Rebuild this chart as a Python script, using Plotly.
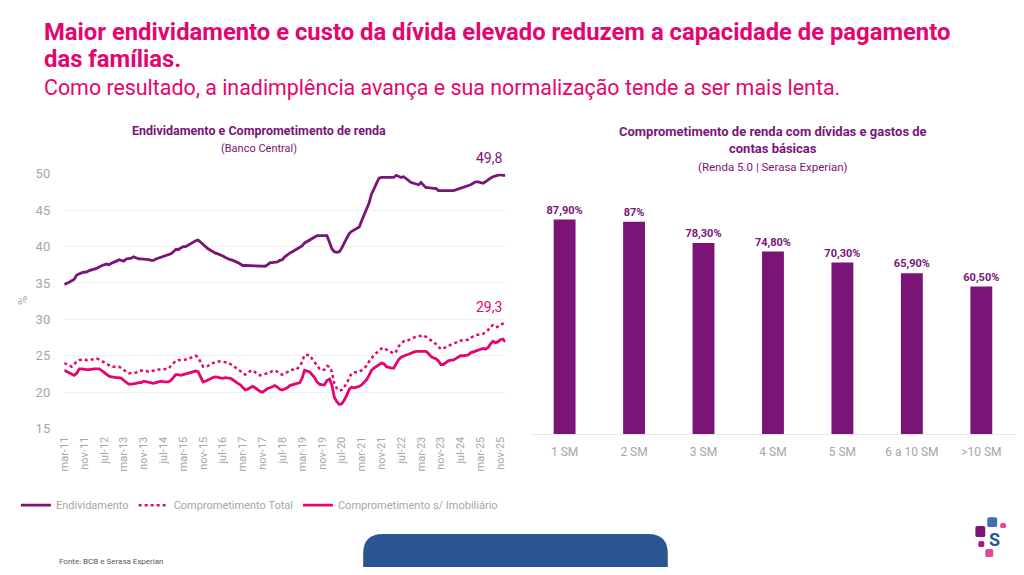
import plotly.graph_objects as go
import pandas as pd

# monthly series, mar-11 .. jan-26
endividamento = [
    34.8, 34.9, 35.1, 35.3, 35.5, 36.1, 36.3, 36.4, 36.5, 36.5,
    36.7, 36.8, 36.9, 37.0, 37.2, 37.4, 37.5, 37.6, 37.5, 37.7, 37.8, 38.0,
    38.2, 38.1, 38.0, 38.3, 38.3, 38.4, 38.6, 38.4, 38.3, 38.3, 38.3, 38.3,
    38.2, 38.1, 38.1, 38.3, 38.4, 38.5, 38.6, 38.7, 38.8, 39.0, 39.3, 39.6,
    39.6, 39.8, 40.0, 40.0, 40.2, 40.4, 40.6, 40.8, 40.9, 40.6, 40.2, 40.0,
    39.7, 39.5, 39.3, 39.1, 39.0, 38.9, 38.7, 38.5, 38.3, 38.2, 38.1, 38.0,
    37.8, 37.6, 37.4, 37.4, 37.4, 37.4, 37.3, 37.3, 37.4, 37.3, 37.3, 37.3,
    37.5, 37.8, 37.8, 37.8, 37.9, 38.1, 38.2, 38.6, 38.9, 39.1, 39.3, 39.5,
    39.6, 39.8, 40.1, 40.5, 40.7, 41.0, 41.2, 41.3, 41.5, 41.5, 41.5, 41.5,
    41.5, 40.6, 39.7, 39.3, 39.2, 39.3, 39.8, 40.5, 41.2, 41.8, 42.1, 42.3,
    42.4, 42.7, 43.5, 44.3, 45.0, 46.0, 47.2, 48.0, 48.8, 49.4, 49.5, 49.5,
    49.5, 49.5, 49.6, 49.5, 49.8, 49.6, 49.5, 49.6, 49.3, 49.0, 48.8, 48.7,
    48.6, 48.5, 48.8, 48.4, 48.1, 48.1, 48.0, 48.0, 48.0, 47.7, 47.7, 47.7,
    47.7, 47.6, 47.6, 47.7, 47.8, 47.9, 48.0, 48.1, 48.2, 48.4, 48.5, 48.7,
    48.9, 48.9, 48.8, 48.7, 48.9, 49.2, 49.4, 49.6, 49.7, 49.7, 49.9, 49.8,
    49.8,
]
comp_total = [
    24.0, 23.8, 23.6, 23.5, 23.8, 24.2, 24.4, 24.5, 24.5, 24.4,
    24.5, 24.5, 24.5, 24.6, 24.5, 24.3, 24.1, 23.8, 23.6, 23.5, 23.5, 23.5,
    23.5, 23.3, 23.0, 22.8, 22.6, 22.6, 22.6, 22.7, 22.9, 23.0, 23.0, 22.9,
    22.8, 22.9, 22.9, 23.0, 23.1, 23.1, 23.1, 23.2, 23.2, 23.6, 24.0, 24.3,
    24.4, 24.4, 24.4, 24.4, 24.5, 24.7, 24.8, 25.0, 24.8, 24.2, 23.5, 23.5,
    23.6, 23.9, 24.0, 24.1, 24.2, 24.2, 24.1, 24.1, 24.1, 23.9, 23.6, 23.4,
    23.1, 22.9, 22.6, 22.4, 22.6, 22.9, 23.0, 22.7, 22.5, 22.3, 22.4, 22.5,
    22.6, 22.7, 22.9, 23.0, 22.8, 22.5, 22.4, 22.6, 22.8, 23.0, 23.1, 23.0,
    23.2, 23.5, 24.2, 25.1, 25.1, 25.1, 24.6, 24.1, 23.6, 23.2, 23.0, 23.1,
    23.6, 23.5, 22.8, 21.2, 20.5, 20.2, 20.3, 20.8, 21.2, 22.0, 22.6, 22.7,
    22.7, 22.8, 23.0, 23.3, 23.6, 24.2, 24.7, 25.1, 25.4, 25.7, 26.0, 26.1,
    25.8, 25.6, 25.5, 25.3, 25.6, 26.3, 26.7, 27.0, 27.0, 27.2, 27.3, 27.5,
    27.6, 27.7, 27.8, 27.8, 27.6, 27.4, 27.1, 26.9, 26.6, 26.3, 25.9, 26.0,
    26.2, 26.4, 26.5, 26.7, 26.8, 27.0, 27.1, 27.1, 27.1, 27.2, 27.5, 27.7,
    27.8, 27.9, 27.9, 28.0, 28.2, 28.5, 29.0, 29.2, 28.9, 29.0, 29.3, 29.4,
    29.3,
]
comp_sem_imob = [
    23.0, 22.8, 22.6, 22.4, 22.3, 22.6, 23.2, 23.2, 23.1, 23.1,
    23.1, 23.2, 23.2, 23.2, 23.2, 23.0, 22.7, 22.5, 22.2, 22.1, 22.0, 22.0,
    22.0, 21.9, 21.6, 21.3, 21.1, 21.1, 21.1, 21.2, 21.3, 21.3, 21.5, 21.4,
    21.3, 21.2, 21.2, 21.3, 21.4, 21.5, 21.4, 21.4, 21.4, 21.6, 22.0, 22.4,
    22.4, 22.3, 22.4, 22.5, 22.6, 22.6, 22.7, 22.9, 22.8, 22.2, 21.4, 21.5,
    21.7, 21.8, 22.0, 22.1, 22.0, 21.9, 21.9, 22.0, 22.0, 21.9, 21.7, 21.4,
    21.2, 21.0, 20.7, 20.3, 20.4, 20.6, 20.8, 20.6, 20.3, 20.1, 20.0, 20.3,
    20.5, 20.6, 20.8, 20.9, 20.7, 20.4, 20.3, 20.4, 20.6, 20.9, 21.0, 21.0,
    21.1, 21.3, 21.9, 23.0, 22.9, 22.8, 22.4, 22.0, 21.4, 21.1, 21.0, 21.0,
    21.6, 21.8, 21.0, 19.3, 18.7, 18.3, 18.4, 18.9, 19.6, 20.4, 20.7, 20.6,
    20.7, 20.8, 21.0, 21.3, 21.7, 22.3, 23.0, 23.3, 23.5, 23.7, 24.0, 23.9,
    23.5, 23.4, 23.3, 23.3, 23.9, 24.5, 24.8, 25.0, 25.1, 25.2, 25.4, 25.5,
    25.6, 25.6, 25.6, 25.6, 25.6, 25.3, 24.9, 24.7, 24.6, 24.3, 23.8, 23.8,
    24.1, 24.3, 24.4, 24.4, 24.6, 24.8, 25.0, 25.0, 25.0, 25.1, 25.4, 25.5,
    25.7, 25.8, 25.8, 26.0, 25.9, 26.1, 26.6, 27.0, 26.8, 26.9, 27.2, 27.3,
    26.9,
]
tick_labels = ["mar-11", "nov-11", "jul-12", "mar-13", "nov-13", "jul-14", "mar-15", "nov-15",
               "jul-16", "mar-17", "nov-17", "jul-18", "mar-19", "nov-19", "jul-20", "mar-21",
               "nov-21", "jul-22", "mar-23", "nov-23", "jul-24", "mar-25", "nov-25"]

faixas = ["1 SM", "2 SM", "3 SM", "4 SM", "5 SM", "6 a 10 SM", ">10 SM"]
comprometimento = [87.9, 87.0, 78.3, 74.8, 70.3, 65.9, 60.5]
comprometimento_txt = ["87,90%", "87%", "78,30%", "74,80%", "70,30%", "65,90%", "60,50%"]

PINK = "#E5056F"
PURPLE = "#7A1577"
GRAY = "#A6A6A6"
FONT = "Roboto"
W, H = 1024, 575

dates = pd.date_range("2011-03-01", periods=len(endividamento), freq="MS")
tick_vals = dates[::8][:len(tick_labels)]


def px(x):
    return x / W


def py(y):
    # the photographed page comes out a little squeezed vertically; undo that
    return 1 - ((y - 6.3) / 0.975) / H


fig = go.Figure()

fig.add_trace(go.Scatter(x=dates, y=endividamento, mode="lines", name="Endividamento",
                         line=dict(color=PURPLE, width=2.8)))
fig.add_trace(go.Scatter(x=dates, y=comp_total, mode="lines", name="Comprometimento Total",
                         line=dict(color=PINK, width=2.5, dash="dot")))
fig.add_trace(go.Scatter(x=dates, y=comp_sem_imob, mode="lines", name="Comprometimento s/ Imobiliário",
                         line=dict(color=PINK, width=2.8)))

fig.add_trace(go.Bar(x=faixas, y=comprometimento, text=comprometimento_txt,
                     textposition="outside", cliponaxis=False, constraintext="none",
                     textfont=dict(family=FONT, size=11, color=PURPLE, weight="bold"),
                     marker=dict(color=PURPLE, line=dict(width=0)),
                     xaxis="x2", yaxis="y2", showlegend=False, hoverinfo="skip"))

fig.update_layout(
    width=W, height=H,
    margin=dict(l=0, r=0, t=0, b=0),
    paper_bgcolor="white", plot_bgcolor="white",
    font=dict(family=FONT, color=GRAY),
    xaxis=dict(domain=[px(58.7), px(503.3)], range=[dates[0], dates[-1]],
               tickvals=tick_vals, ticktext=tick_labels, tickangle=-90,
               tickfont=dict(size=11, color=GRAY), showgrid=False, showline=False,
               ticks="", ticklabelstandoff=5),
    yaxis=dict(domain=[py(428.3), py(173.3)], range=[15, 50], dtick=5,
               tickfont=dict(size=13, color=GRAY), gridcolor="#EEEEEE",
               zeroline=False, showline=False, ticks="", ticklabelstandoff=13),
    xaxis2=dict(domain=[px(528), px(1018)], anchor="y2", showgrid=False,
                showline=True, linecolor="#E8E8E8", linewidth=1,
                tickfont=dict(size=12, color=GRAY), ticks="", ticklabelstandoff=6),
    yaxis2=dict(domain=[py(434), py(192)], range=[0, 99], anchor="x2", visible=False),
    bargap=0.685,
    legend=dict(orientation="h", x=px(10), y=py(505), xanchor="left", yanchor="middle",
                font=dict(size=11, color=GRAY), itemwidth=30, tracegroupgap=0,
                bgcolor="rgba(0,0,0,0)"),
    showlegend=True,
)

# headline
fig.add_annotation(x=px(36), y=py(31), xref="paper", yref="paper", xanchor="left", yanchor="middle",
                   text="<b>Maior endividamento e custo da dívida elevado reduzem a capacidade de pagamento</b>",
                   showarrow=False, font=dict(size=23.8, color=PINK, family=FONT))
fig.add_annotation(x=px(36), y=py(58), xref="paper", yref="paper", xanchor="left", yanchor="middle",
                   text="<b>das famílias.</b>", showarrow=False, font=dict(size=23.8, color=PINK, family=FONT))
fig.add_annotation(x=px(36), y=py(87), xref="paper", yref="paper", xanchor="left", yanchor="middle",
                   text="Como resultado, a inadimplência avança e sua normalização tende a ser mais lenta.",
                   showarrow=False, font=dict(size=21.4, color=PINK, family=FONT))

# left chart titles
fig.add_annotation(x=px(255), y=py(130), xref="paper", yref="paper", xanchor="center", yanchor="middle",
                   showarrow=False, text="<b>Endividamento e Comprometimento de renda</b>",
                   font=dict(size=12.5, color=PURPLE, family=FONT))
fig.add_annotation(x=px(255), y=py(148), xref="paper", yref="paper", xanchor="center", yanchor="middle",
                   showarrow=False, text="(Banco Central)", font=dict(size=11, color=PURPLE, family=FONT))
fig.add_annotation(x=px(16), y=py(300), xref="paper", yref="paper", xanchor="center", yanchor="middle",
                   showarrow=False, textangle=-90, text="%", font=dict(size=13, color=GRAY, family=FONT))

# last values
fig.add_annotation(x=dates[-1], y=endividamento[-1], xref="x", yref="y", showarrow=False,
                   text=f"{endividamento[-1]:.1f}".replace(".", ","), yshift=17, xshift=-16,
                   font=dict(size=14, color=PURPLE, family=FONT))
fig.add_annotation(x=dates[-1], y=comp_total[-1], xref="x", yref="y", showarrow=False,
                   text=f"{comp_total[-1]:.1f}".replace(".", ","), yshift=17, xshift=-16,
                   font=dict(size=14, color=PINK, family=FONT))

# right chart titles
fig.add_annotation(x=px(773), y=py(131), xref="paper", yref="paper", xanchor="center", yanchor="middle",
                   showarrow=False, text="<b>Comprometimento de renda com dívidas e gastos de</b>",
                   font=dict(size=13, color=PURPLE, family=FONT))
fig.add_annotation(x=px(773), y=py(148), xref="paper", yref="paper", xanchor="center", yanchor="middle",
                   showarrow=False, text="<b>contas básicas</b>", font=dict(size=13, color=PURPLE, family=FONT))
fig.add_annotation(x=px(773), y=py(166), xref="paper", yref="paper", xanchor="center", yanchor="middle",
                   showarrow=False, text="(Renda 5.0 | Serasa Experian)",
                   font=dict(size=11.5, color=PURPLE, family=FONT))

# footer
fig.add_annotation(x=px(51), y=py(561), xref="paper", yref="paper", xanchor="left", yanchor="middle",
                   showarrow=False, text="Fonte: BCB e Serasa Experian",
                   font=dict(size=8, color="#595959", family=FONT))

# blue tab at the bottom
x0, x1, y0, r = px(360), px(667), py(534), 20
fig.add_shape(type="path", xref="paper", yref="paper", line=dict(width=0), fillcolor="#2A5592",
              path=(f"M {x0},0 L {x0},{y0 - r / H} Q {x0},{y0} {x0 + r / W},{y0} "
                    f"L {x1 - r / W},{y0} Q {x1},{y0} {x1},{y0 - r / H} L {x1},0 Z"))


def rounded_square(a, b, c, d, col, rad=2):
    # a, b = left, top / c, d = right, bottom (pixels)
    l, rt, t, bt = px(a), px(c), py(b), py(d)
    rx, ry = rad / W, rad / H
    path = (f"M {l + rx},{t} L {rt - rx},{t} Q {rt},{t} {rt},{t - ry} L {rt},{bt + ry} "
            f"Q {rt},{bt} {rt - rx},{bt} L {l + rx},{bt} Q {l},{bt} {l},{bt + ry} "
            f"L {l},{t - ry} Q {l},{t} {l + rx},{t} Z")
    fig.add_shape(type="path", xref="paper", yref="paper", path=path, fillcolor=col, line=dict(width=0))


# logo
for (a, b, c, d, col) in [(989, 517, 999, 527, "#3F6FB0"), (977, 526, 987, 537, "#7A1577"),
                          (1002, 523, 1008, 528, "#E5468F"), (980, 541, 986, 547, "#B3127A"),
                          (987, 549, 995, 557, "#E5468F")]:
    rounded_square(a, b, c, d, col)
fig.add_annotation(x=px(996), y=py(539.5), xref="paper", yref="paper", xanchor="center", yanchor="middle",
                   showarrow=False, text="<b>S</b>", font=dict(size=18, color="#2A5592", family=FONT))

# pin the graph to the window corner
pin = ("document.documentElement.style.margin='0';document.body.style.margin='0';"
       "document.body.style.overflow='hidden';"
       "var d=document.getElementById('{plot_id}');"
       "d.style.position='fixed';d.style.top='0';d.style.left='0';")
fig.write_html("out.html", config={"displayModeBar": False}, post_script=pin)
